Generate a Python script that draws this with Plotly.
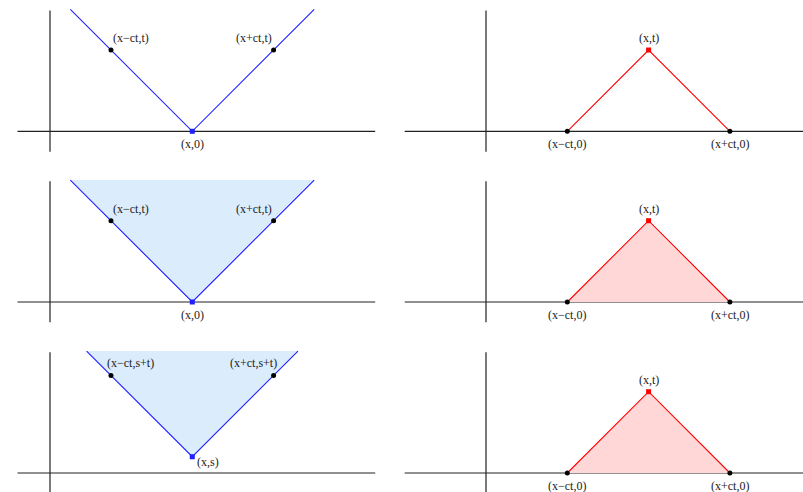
import plotly.graph_objects as go

# ---------------- data ----------------
# left column: backward cone from (x,0) or (x,s)
cone_x_row1 = [0.5, 3.5, 6.5]
cone_y_row1 = [3.0, 0.0, 3.0]
cone_x_row3 = [0.9, 3.5, 6.1]
cone_y_row3 = [3.0, 0.4, 3.0]
pts_x_left = [1.5, 5.5]
pts_y_left = [2.0, 2.0]
pts_y_left_row3 = [2.4, 2.4]
apex_left = (3.5, 0.0)
apex_left_row3 = (3.5, 0.4)
labels_left = ["(x\u2212ct,t)", "(x+ct,t)"]
labels_left_row3 = ["(x\u2212ct,s+t)", "(x+ct,s+t)"]
apex_label_left = "(x,0)"
apex_label_left_row3 = "(x,s)"

# right column: domain of dependence triangle
tri_x = [2.0, 4.0, 6.0]
tri_y = [0.0, 2.0, 0.0]
base_x = [2.0, 6.0]
base_y = [0.0, 0.0]
apex_right = (4.0, 2.0)
labels_right = ["(x\u2212ct,0)", "(x+ct,0)"]
apex_label_right = "(x,t)"

# axis extents
haxis_left = [-0.8, 8.0]
haxis_right = [-2.0, 7.8]
vaxis = [-0.5, 2.97]

# ---------------- layout geometry ----------------
W, H = 803, 492
K = 40.65  # px per unit
col_origin_px = [50.0, 486.0]
col_px = [(0, 400), (400, 803)]
row_origin_px = [131.3, 302.0, 473.0]
row_px = [(0, 165), (165, 336), (336, 492)]

BLUE = "rgb(30,30,255)"
BLUE_FILL = "rgba(219,236,253,1)"
RED = "rgb(255,0,0)"
RED_FILL = "rgba(255,215,215,1)"
AX = "#222222"
FONT = dict(family="Liberation Serif", size=12, color="#222222")

fig = go.Figure()
annotations = []
layout = {}

def ax_names(i):
    n = "" if i == 1 else str(i)
    return "x" + n, "y" + n, "xaxis" + n, "yaxis" + n

idx = 0
for r in range(3):
    for c in range(2):
        idx += 1
        xr, yr, xa, ya = ax_names(idx)
        px0, px1 = col_px[c]
        py0, py1 = row_px[r]
        ox = col_origin_px[c]
        oy = row_origin_px[r]
        layout[xa] = dict(domain=[px0 / W, px1 / W],
                          range=[(px0 - ox) / K, (px1 - ox) / K],
                          visible=False, fixedrange=True, anchor=yr)
        layout[ya] = dict(domain=[1 - py1 / H, 1 - py0 / H],
                          range=[(oy - py1) / K, (oy - py0) / K],
                          visible=False, fixedrange=True, anchor=xr)
        hx = haxis_left if c == 0 else haxis_right
        # axes
        fig.add_trace(go.Scatter(x=hx, y=[0, 0], mode="lines",
                                 line=dict(color=AX, width=1.2),
                                 xaxis=xr, yaxis=yr, hoverinfo="skip", cliponaxis=False))
        fig.add_trace(go.Scatter(x=[0, 0], y=vaxis, mode="lines",
                                 line=dict(color=AX, width=1.2),
                                 xaxis=xr, yaxis=yr, hoverinfo="skip", cliponaxis=False))
        if c == 0:
            if r == 2:
                cx, cy, py, ap, labs, alab = (cone_x_row3, cone_y_row3, pts_y_left_row3,
                                              apex_left_row3, labels_left_row3, apex_label_left_row3)
            else:
                cx, cy, py, ap, labs, alab = (cone_x_row1, cone_y_row1, pts_y_left,
                                              apex_left, labels_left, apex_label_left)
            if r > 0:
                fig.add_trace(go.Scatter(x=cx, y=cy, mode="none", fill="toself",
                                         fillcolor=BLUE_FILL, xaxis=xr, yaxis=yr,
                                         hoverinfo="skip"))
            fig.add_trace(go.Scatter(x=cx, y=cy, mode="lines",
                                     line=dict(color=BLUE, width=1.1),
                                     xaxis=xr, yaxis=yr, hoverinfo="skip"))
            fig.add_trace(go.Scatter(x=pts_x_left, y=py, mode="markers",
                                     marker=dict(color="black", size=5),
                                     xaxis=xr, yaxis=yr, hoverinfo="skip"))
            fig.add_trace(go.Scatter(x=[ap[0]], y=[ap[1]], mode="markers",
                                     marker=dict(color=BLUE, size=5, symbol="square"),
                                     xaxis=xr, yaxis=yr, hoverinfo="skip"))
            if r == 2:
                offs = [(20, 12), (-20, 12)]
            else:
                offs = [(20, 12), (-20, 12)]
            for xv, yv, t, (dx, dy) in zip(pts_x_left, py, labs, offs):
                annotations.append(dict(x=xv, y=yv, xref=xr, yref=yr, text=t,
                                        showarrow=False, xshift=dx, yshift=dy, font=FONT))
            if r == 2:
                annotations.append(dict(x=ap[0], y=ap[1], xref=xr, yref=yr, text=alab,
                                        showarrow=False, xshift=16, yshift=-5, font=FONT))
            else:
                annotations.append(dict(x=ap[0], y=ap[1], xref=xr, yref=yr, text=alab,
                                        showarrow=False, xshift=0, yshift=-13, font=FONT))
        else:
            if r > 0:
                fig.add_trace(go.Scatter(x=tri_x, y=tri_y, mode="none", fill="toself",
                                         fillcolor=RED_FILL, xaxis=xr, yaxis=yr,
                                         hoverinfo="skip"))
            fig.add_trace(go.Scatter(x=tri_x, y=tri_y, mode="lines",
                                     line=dict(color=RED, width=1.1),
                                     xaxis=xr, yaxis=yr, hoverinfo="skip"))
            fig.add_trace(go.Scatter(x=base_x, y=base_y, mode="markers",
                                     marker=dict(color="black", size=5),
                                     xaxis=xr, yaxis=yr, hoverinfo="skip", cliponaxis=False))
            fig.add_trace(go.Scatter(x=[apex_right[0]], y=[apex_right[1]], mode="markers",
                                     marker=dict(color=RED, size=5, symbol="square"),
                                     xaxis=xr, yaxis=yr, hoverinfo="skip"))
            for xv, yv, t in zip(base_x, base_y, labels_right):
                annotations.append(dict(x=xv, y=yv, xref=xr, yref=yr, text=t,
                                        showarrow=False, xshift=0, yshift=-13, font=FONT))
            annotations.append(dict(x=apex_right[0], y=apex_right[1], xref=xr, yref=yr,
                                    text=apex_label_right, showarrow=False,
                                    xshift=0, yshift=12, font=FONT))

fig.update_layout(width=W, height=H, margin=dict(l=0, r=0, t=0, b=0),
                  paper_bgcolor="white", plot_bgcolor="white",
                  showlegend=False, annotations=annotations, **layout)

fig.write_html("out.html", config={"displayModeBar": False})
